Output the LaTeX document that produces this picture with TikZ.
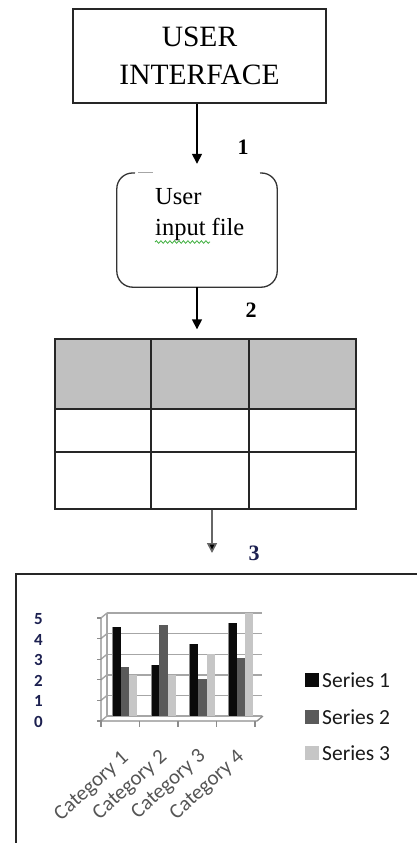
\documentclass[tikz,border=0pt]{standalone}
\usepackage{fontspec}
\setmainfont{Liberation Serif}
\newfontfamily\calfont{Carlito}
\usetikzlibrary{arrows.meta,decorations.pathmorphing}
\definecolor{hdr}{HTML}{C0C0C0}
\definecolor{sone}{HTML}{0A0A0A}
\definecolor{stwo}{HTML}{5A5A5A}
\definecolor{sthree}{HTML}{C6C6C6}
\definecolor{gridc}{HTML}{A6A6A6}
\definecolor{axisc}{HTML}{8C8C8C}
\definecolor{navy}{HTML}{1C2050}
\definecolor{catgray}{HTML}{555555}
\definecolor{framec}{HTML}{262626}
\definecolor{squig}{HTML}{3FAF3F}
\begin{document}
\begin{tikzpicture}[x=1pt,y=-1pt,
  arr/.style={line width=1.6pt,-{Triangle[length=10pt,width=10pt]}},
  garr/.style={line width=1.6pt,draw=black!60,-{Triangle[length=10pt,width=10pt,fill=black]}},
  numlab/.style={font=\bfseries\fontsize{22}{22}\selectfont},
  bxline/.style={line width=1.4pt,draw=framec},
  ylab/.style={font=\calfont\bfseries\fontsize{17}{17}\selectfont,text=navy},
  catlab/.style={font=\calfont\fontsize{21}{21}\selectfont,text=catgray,rotate=42,anchor=east,inner sep=0pt},
  leglab/.style={font=\calfont\fontsize{21.5}{20}\selectfont,text=black!90,anchor=west,inner sep=1pt},
  gridl/.style={draw=gridc,line width=1.4pt}]
\useasboundingbox (0,0) rectangle (417,843);

% --- user interface box
\node[bxline,draw,minimum width=253pt,minimum height=94pt,align=center,
  font=\fontsize{29.5}{38}\selectfont] (ui) at (199.5,56) {USER\\INTERFACE};

% --- user input file box (top edge partly missing)
\node[minimum width=160pt,minimum height=114pt,inner sep=0pt] (inp) at (197,230) {};
\draw[line width=1.3pt,draw=black!80,rounded corners=16pt]
  (135,173) -- (inp.north west) -- (inp.south west) -- (inp.south east) -- (inp.north east) -- (260,173);
\draw[line width=1pt,draw=black!35] (138,172) -- (153,172);
\node[anchor=north west,align=left,inner sep=0pt,
  font=\fontsize{24.5}{31}\selectfont] (inptxt) at (155,188.5) {User\\input file};
\draw[squig,line width=0.8pt,decorate,decoration={snake,amplitude=1.3pt,segment length=4.5pt}]
  (155,242) -- (210,242);

% --- table
\fill[hdr] (55,339) rectangle (356,409);
\node[bxline,draw,minimum width=301pt,minimum height=170pt,inner sep=0pt] (tbl) at (205.5,424) {};
\draw[bxline] (55,409) -- (356,409);
\draw[bxline] (55,452) -- (356,452);
\draw[bxline] (151,339) -- (151,509);
\draw[bxline] (249,339) -- (249,509);

% --- arrows and labels
\draw[arr,shorten >=9pt] (ui.south -| inp.north) -- (inp.north);
\node[numlab] (n1) at (243,147) {1};
\draw[arr,shorten >=9pt] (inp.south) -- (tbl.north -| inp.south);
\node[numlab] (n2) at (251,310) {2};
\coordinate (a3) at (212,553);
\draw[garr] (tbl.south -| a3) -- (a3);
\node[numlab,text=navy] (n3) at (254,553) {3};

% --- chart frame
\draw[line width=1.9pt,draw=framec] (16,843) -- (16,574) -- (417,574);

% --- chart walls and grid
\foreach \k in {0,...,5} {
  \draw[gridl] (107,716-20.6*\k) -- (262,716-20.6*\k);
  \draw[gridl] (101,721-20.6*\k) -- (107,716-20.6*\k);
  \draw[draw=axisc,line width=1.2pt] (97,721-20.6*\k) -- (101,721-20.6*\k);
  \node[ylab] at (38.5,721.5-20.4*\k) {\k};
}
\draw[gridl] (107,613) -- (107,716);
\draw[draw=axisc,line width=1.3pt] (101,618) -- (101,721) -- (257,721) -- (263,716);
\foreach \t in {101,139.5,178,216.5,255} {
  \draw[draw=axisc,line width=1.2pt] (\t,721) -- (\t,727);
}

% --- bars
\foreach \i/\a/\b/\c in {0/4.3/2.4/2,1/2.5/4.4/2,2/3.5/1.8/3,3/4.5/2.8/5} {
  \pgfmathsetmacro\bx{112+38.65*\i}
  \fill[sone] (\bx,716) rectangle (\bx+8.8,716-20.6*\a);
  \fill[stwo] (\bx+8.8,716) rectangle (\bx+17.3,716-20.6*\b);
  \fill[sthree] (\bx+17.3,716) rectangle (\bx+25.3,716-20.6*\c);
  \draw[draw=black!45,line width=0.8pt] (\bx+0.4,716) -- (\bx+0.4,716-20.6*\a);
}

% --- category labels
\node[catlab] at (126,756) {Category 1};
\node[catlab] at (164.5,755) {Category 2};
\node[catlab] at (203,754) {Category 3};
\node[catlab] at (241.5,755) {Category 4};

% --- legend
\fill[sone] (305,673) rectangle (319,687);
\node[leglab] at (321,680) {Series 1};
\fill[stwo] (305,710) rectangle (319,724);
\node[leglab] at (321,717) {Series 2};
\fill[sthree] (305,746) rectangle (319,760);
\node[leglab] at (321,753) {Series 3};
\end{tikzpicture}
\end{document}
